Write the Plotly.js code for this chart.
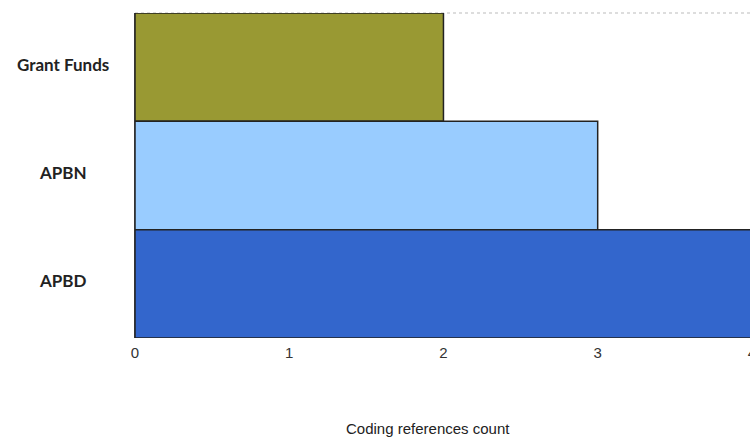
<!DOCTYPE html>
<html><head><meta charset="utf-8">
<script src="https://cdn.plot.ly/plotly-3.0.1.min.js"></script>
<style>html,body{margin:0;padding:0;overflow:hidden;background:#fff;}#chart{width:770px;height:437px;}</style>
</head><body><div id="chart"></div>
<script>
const categories = ["Grant Funds", "APBN", "APBD"];
const counts = [2, 3, 4];
const barColors = ["#999933", "#99CCFF", "#3366CC"];
const xTicks = [0, 1, 2, 3, 4];
const xTitle = "Coding references count";

const trace = {
  type: "bar", orientation: "h",
  y: categories, x: counts,
  marker: {color: barColors, line: {color: "#222222", width: 1.5}},
  hoverinfo: "x+y"
};

const labelAnnotations = categories.map(c => ({
  xref: "paper", yref: "y", x: -0.117, y: c, yshift: 3, text: "<b>" + c + "</b>",
  showarrow: false, xanchor: "center", yanchor: "middle",
  font: {family: "Lato, Open Sans, sans-serif", size: 17, color: "#222222"}
}));

const layout = {
  width: 770, height: 437,
  margin: {l: 135, r: 18, t: 13, b: 99},
  paper_bgcolor: "#ffffff", plot_bgcolor: "#ffffff",
  bargap: 0, showlegend: false,
  xaxis: {
    range: [0, 4.0005], tickvals: xTicks, ticktext: xTicks.map(String),
    showgrid: false, zeroline: false, showline: false, ticks: "",
    ticklabelstandoff: 4,
    tickfont: {family: "Liberation Sans, Arial, sans-serif", size: 15, color: "#333333"},
    fixedrange: true
  },
  yaxis: {
    categoryorder: "array", categoryarray: categories.slice().reverse(),
    showticklabels: false, showgrid: false, zeroline: false,
    showline: true, linecolor: "#333333", linewidth: 1.5, ticks: "",
    fixedrange: true
  },
  shapes: [{type: "line", xref: "paper", yref: "paper", x0: 0, x1: 1, y0: 1, y1: 1,
            line: {color: "#bbbbbb", width: 1, dash: "dot"}, layer: "below"}],
  annotations: labelAnnotations.concat([{
    xref: "paper", yref: "paper", x: 0.475, y: 0, yshift: -90,
    text: xTitle, showarrow: false, xanchor: "center", yanchor: "middle",
    font: {family: "Liberation Sans, Arial, sans-serif", size: 15, color: "#222222"}
  }])
};

Plotly.newPlot("chart", [trace], layout, {displayModeBar: false, staticPlot: true});
</script></body></html>
